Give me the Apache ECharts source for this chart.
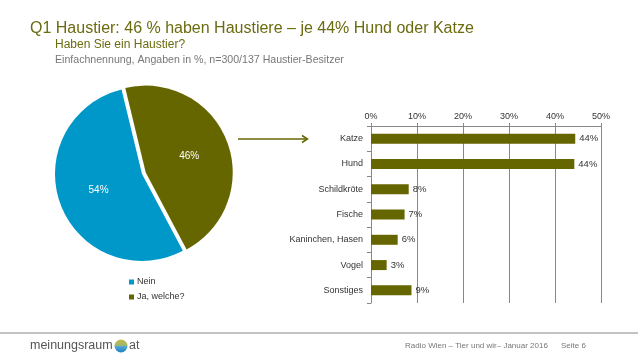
<!DOCTYPE html>
<html>
<head>
<meta charset="utf-8">
<script src="https://cdn.jsdelivr.net/npm/echarts@6/dist/echarts.min.js"></script>
<style>
html,body{margin:0;padding:0;background:#fff;}
#c{width:638px;height:359px;}
</style>
</head>
<body>
<div id="c"></div>
<script>
var pieNames = ['Nein', 'Ja, welche?'];
var pieValues = [54, 46];
var barCategories = ['Katze', 'Hund', 'Schildkröte', 'Fische', 'Kaninchen, Hasen', 'Vogel', 'Sonstiges'];
var barValues = [44.4, 44.2, 8.2, 7.3, 5.8, 3.4, 8.8];
var xTicks = [0, 10, 20, 30, 40, 50];

var BLUE = '#0098C8';
var OLIVE = '#666600';
var FONT = '"Liberation Sans", Arial, sans-serif';

var chart = echarts.init(document.getElementById('c'), null, {renderer: 'canvas'});

chart.setOption({
  animation: false,
  textStyle: {fontFamily: FONT},
  title: [
    {text: 'Q1 Haustier: 46 % haben Haustiere \u2013 je 44% Hund oder Katze', left: 30, top: 21, padding: 0,
     textStyle: {fontFamily: FONT, fontSize: 16, fontWeight: 'normal', color: '#6B6B10', lineHeight: 16}},
    {text: 'Haben Sie ein Haustier?', left: 55, top: 39, padding: 0,
     textStyle: {fontFamily: FONT, fontSize: 12, fontWeight: 'normal', color: '#6B6B10', lineHeight: 12}},
    {text: 'Einfachnennung, Angaben in %, n=300/137 Haustier-Besitzer', left: 55, top: 55, padding: 0,
     textStyle: {fontFamily: FONT, fontSize: 10.6, fontWeight: 'normal', color: '#777777', lineHeight: 11}}
  ],
  legend: {
    data: pieNames,
    orient: 'vertical',
    left: 124,
    top: 272,
    icon: 'rect',
    itemWidth: 5,
    itemHeight: 5,
    itemGap: 5,
    selectedMode: false,
    textStyle: {fontFamily: FONT, fontSize: 9, color: '#333', lineHeight: 10, padding: [0, 0, 0, -2]}
  },
  grid: {left: 371, right: 37, top: 126, bottom: 56, containLabel: false},
  xAxis: {
    type: 'value',
    position: 'top',
    min: 0,
    max: 50,
    interval: 10,
    axisLine: {show: true, lineStyle: {color: '#888', width: 1}},
    axisTick: {show: true, length: 3, lineStyle: {color: '#888'}},
    splitLine: {show: true, lineStyle: {color: '#888', width: 1}},
    axisLabel: {fontFamily: FONT, fontSize: 9, color: '#333', margin: 5,
      formatter: function (v) { return xTicks.indexOf(v) >= 0 ? v + '%' : ''; }}
  },
  yAxis: {
    type: 'category',
    data: barCategories,
    inverse: true,
    axisLine: {show: true, lineStyle: {color: '#888', width: 1}},
    axisTick: {show: true, length: 4, lineStyle: {color: '#888'}},
    axisLabel: {fontFamily: FONT, fontSize: 9, color: '#333', margin: 8}
  },
  series: [
    {
      type: 'bar',
      data: barValues,
      barWidth: 10,
      itemStyle: {color: OLIVE},
      silent: true,
      label: {show: true, position: 'right', distance: 4, fontFamily: FONT, fontSize: 9.5, color: '#333',
        formatter: function (p) { return Math.round(p.value) + '%'; }}
    },
    {
      type: 'pie',
      center: [142, 174],
      radius: 87,
      startAngle: 298,
      clockwise: true,
      selectedMode: 'single',
      selectedOffset: 4,
      silent: true,
      emphasis: {disabled: true},
      label: {show: true, position: 'inside', formatter: '{c}%', color: '#fff', fontFamily: FONT, fontSize: 10},
      labelLine: {show: false},
      data: [
        {name: pieNames[0], value: pieValues[0], itemStyle: {color: BLUE}},
        {name: pieNames[1], value: pieValues[1], itemStyle: {color: OLIVE}, selected: true}
      ]
    }
  ],
  graphic: [
    {type: 'line', shape: {x1: 238, y1: 139, x2: 307, y2: 139}, style: {stroke: OLIVE, lineWidth: 1.5}},
    {type: 'polyline', shape: {points: [[302, 135.5], [307.5, 139], [302, 142.5]]}, style: {stroke: OLIVE, lineWidth: 1.5, fill: null}},
    {type: 'line', shape: {x1: 0, y1: 333, x2: 638, y2: 333}, style: {stroke: '#888', lineWidth: 1}},
    {type: 'text', left: 30, top: 339, style: {text: 'meinungsraum', font: '12.5px ' + FONT, fill: '#555'}},
    {type: 'circle', shape: {cx: 121, cy: 346, r: 6.5},
     style: {fill: new echarts.graphic.LinearGradient(0, 0, 0, 1, [
       {offset: 0, color: '#C8B84A'}, {offset: 0.45, color: '#9DB86A'}, {offset: 0.55, color: '#4FA6D8'}, {offset: 1, color: '#1E7FC0'}])}},
    {type: 'text', left: 129, top: 339, style: {text: 'at', font: '12.5px ' + FONT, fill: '#555'}},
    {type: 'text', left: 405, top: 342, style: {text: 'Radio Wien \u2013 Tier und wir\u2013 Januar 2016', font: '8px ' + FONT, fill: '#777'}},
    {type: 'text', left: 561, top: 342, style: {text: 'Seite 6', font: '8px ' + FONT, fill: '#777'}}
  ]
});
</script>
</body>
</html>
